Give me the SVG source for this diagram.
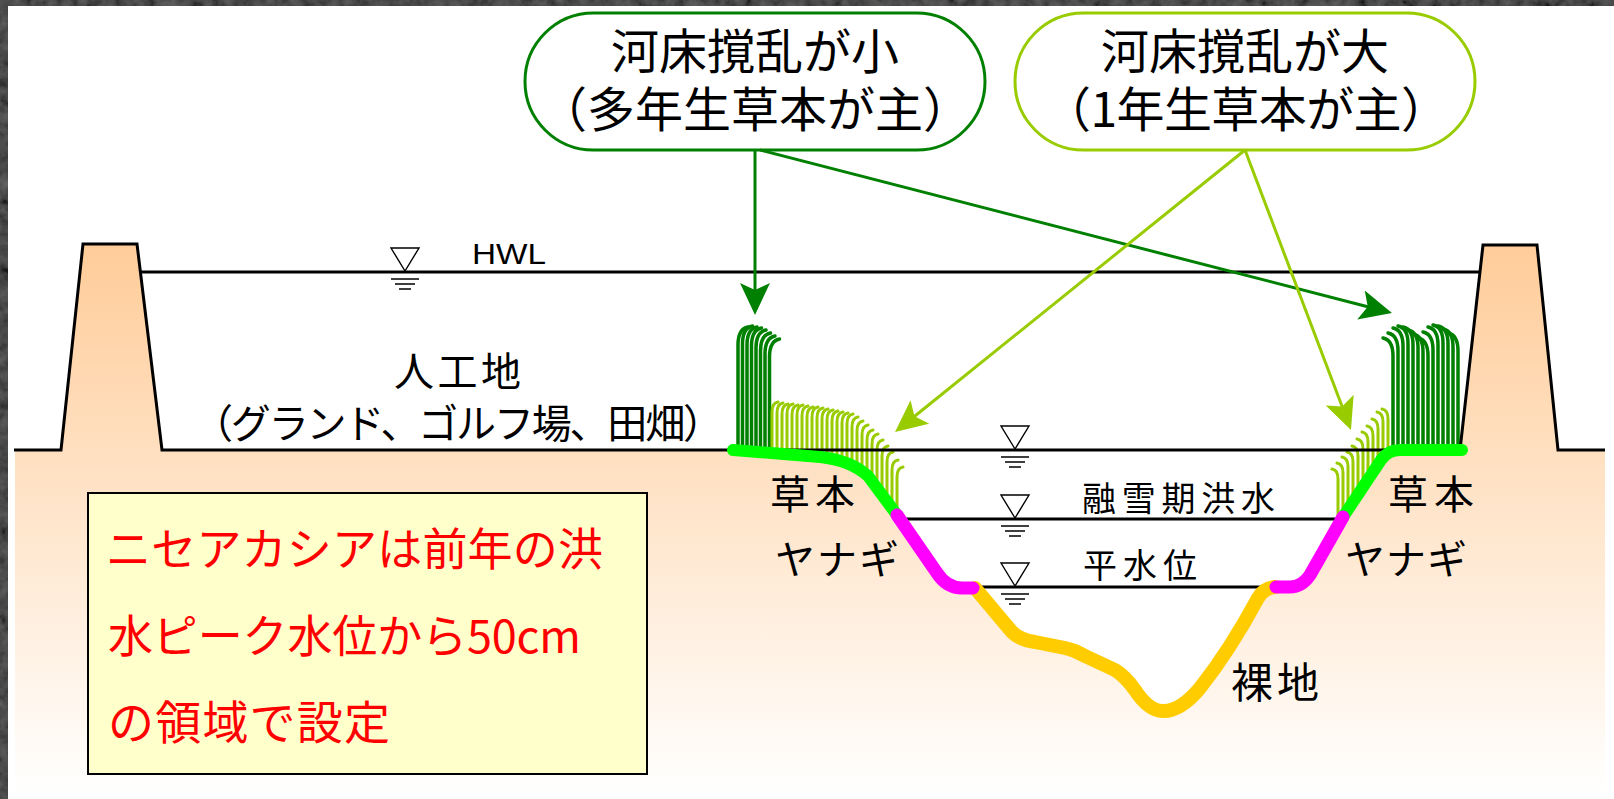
<svg xmlns="http://www.w3.org/2000/svg" width="1614" height="799" viewBox="0 0 1614 799">
  <defs>
    <style>
      .jp { font-family: 'Noto Sans CJK JP', 'Noto Sans CJK SC', sans-serif; fill: #000; }
      .lat { font-family: 'Liberation Sans', Arial, sans-serif; fill: #000; }
      .red { fill: #ff0000; }
      .lvl { stroke: #000; stroke-width: 3; fill: none; }
      .dk { stroke: #008000; stroke-width: 3.5; fill: none; stroke-linecap: round; }
      .lt { stroke: #99cc00; stroke-width: 3; fill: none; stroke-linecap: round; }
      .bank { fill: none; stroke-linecap: round; stroke-linejoin: round; }
    </style>
    <linearGradient id="soil" gradientUnits="userSpaceOnUse" x1="0" y1="244" x2="0" y2="795">
      <stop offset="0" stop-color="#ffcc99"/>
      <stop offset="0.37" stop-color="#ffdfbf"/>
      <stop offset="1" stop-color="#ffffff"/>
    </linearGradient>
    <filter id="granite" x="0" y="0" width="100%" height="100%">
      <feTurbulence type="fractalNoise" baseFrequency="0.09" numOctaves="3" seed="4"/>
      <feColorMatrix type="saturate" values="0"/>
      <feComponentTransfer>
        <feFuncR type="linear" slope="0.6" intercept="-0.15"/>
        <feFuncG type="linear" slope="0.6" intercept="-0.15"/>
        <feFuncB type="linear" slope="0.6" intercept="-0.15"/>
        <feFuncA type="linear" slope="0" intercept="1"/>
      </feComponentTransfer>
    </filter>
    <marker id="ahDark" markerUnits="userSpaceOnUse" viewBox="0 0 32 30" markerWidth="32" markerHeight="30" refX="12" refY="15" orient="auto">
      <path d="M0,0 L32,15 L0,30 L7,15 Z" fill="#008000"/>
    </marker>
    <marker id="ahLight" markerUnits="userSpaceOnUse" viewBox="0 0 32 30" markerWidth="32" markerHeight="30" refX="12" refY="15" orient="auto">
      <path d="M0,0 L32,15 L0,30 L7,15 Z" fill="#99cc00"/>
    </marker>
    <!-- water level mark: inverted triangle with three bars, origin at the water line -->
    <g id="wl">
      <path d="M-14,-24 L14,-24 L0,-1 Z" fill="#fff" stroke="#000" stroke-width="1.4"/>
      <path d="M-14,7 H14 M-10,12 H10 M-6,17 H6" stroke="#000" stroke-width="1.4"/>
    </g>
  </defs>

  <!-- frame -->
  <rect x="0" y="0" width="1614" height="799" fill="#2e2e2e"/>
  <rect x="0" y="0" width="1614" height="799" filter="url(#granite)" opacity="0.45"/>
  <rect x="8" y="6" width="1606" height="793" fill="#ffffff"/>

  <!-- ground, levees and river channel -->
  <g id="ground">
    <path d="M15,450 L61,450 L83,244 L137,244 L162,450 L1460,450 L1483,245 L1537,245 L1558,450 L1605,450 L1605,795 L15,795 Z" fill="url(#soil)"/>
    <path d="M733,450 L820,457 Q850,460 868,476 L897,515 L937,573 Q947,588 962,588 L975,588 L1012,632 Q1020,640 1035,642 L1065,648 Q1075,650 1085,656 L1115,670 Q1125,676 1135,690 Q1148,710 1162,711 Q1180,712 1200,688 Q1230,650 1258,598 Q1264,588 1275,587 L1290,587 Q1302,587 1310,575 L1343,517 L1381,460 Q1388,450 1400,450 L1462,450 Z" fill="#ffffff"/>
  </g>

  <!-- vegetation -->
  <g id="grass">
    <g class="dk">
      <path d="M738,451 L738,345 Q738,329 748,327"/>
      <path d="M742.5,451 L742.5,344 Q742.5,328 752.5,326"/>
      <path d="M747,451 L747,345 Q747,329 757,327"/>
      <path d="M751.5,451 L751.5,346 Q751.5,330 761.5,328"/>
      <path d="M756,451 L756,348 Q756,332 766,330"/>
      <path d="M760.5,451 L760.5,351 Q760.5,335 770.5,333"/>
      <path d="M765,451 L765,354 Q765,338 775,336"/>
      <path d="M769.5,451 L769.5,357 Q769.5,341 779.5,339"/>

      <path d="M1393,452 L1393,356 Q1393,340 1383,338"/>
      <path d="M1398,452 L1398,351 Q1398,335 1388,333"/>
      <path d="M1403,452 L1403,346 Q1403,330 1393,328"/>
      <path d="M1408,452 L1408,344 Q1408,328 1398,326"/>
      <path d="M1413,452 L1413,345 Q1413,329 1403,327"/>
      <path d="M1418,452 L1418,348 Q1418,332 1408,330"/>
      <path d="M1423,452 L1423,352 Q1423,336 1413,334"/>
      <path d="M1428,452 L1428,356 Q1428,340 1418,338"/>
      <path d="M1433,452 L1433,350 Q1433,334 1423,332"/>
      <path d="M1438,452 L1438,345 Q1438,329 1428,327"/>
      <path d="M1443,452 L1443,343 Q1443,327 1433,325"/>
      <path d="M1448,452 L1448,344 Q1448,328 1438,326"/>
      <path d="M1453,452 L1453,347 Q1453,331 1443,329"/>
      <path d="M1458,452 L1458,351 Q1458,335 1448,333"/>
    </g>
    <g class="lt">
      <path d="M772,457 L772,412 Q772,403 778,402"/>
      <path d="M777,457 L777,413 Q777,404 783,403"/>
      <path d="M782,458 L782,414 Q782,405 788,404"/>
      <path d="M787,458 L787,414 Q787,405 793,404"/>
      <path d="M792,459 L792,415 Q792,406 798,405"/>
      <path d="M797,459 L797,415 Q797,406 803,405"/>
      <path d="M802,459 L802,416 Q802,407 808,406"/>
      <path d="M807,460 L807,417 Q807,408 813,407"/>
      <path d="M812,460 L812,417 Q812,408 818,407"/>
      <path d="M817,461 L817,418 Q817,409 823,408"/>
      <path d="M822,461 L822,419 Q822,410 828,409"/>
      <path d="M827,461 L827,420 Q827,411 833,410"/>
      <path d="M832,462 L832,421 Q832,412 838,411"/>
      <path d="M837,462 L837,422 Q837,413 843,412"/>
      <path d="M842,464 L842,423 Q842,414 848,413"/>
      <path d="M847,465 L847,424 Q847,415 853,414"/>
      <path d="M852,467 L852,427 Q852,418 858,417"/>
      <path d="M857,470 L857,431 Q857,422 863,421"/>
      <path d="M862,473 L862,435 Q862,426 868,425"/>
      <path d="M867,479 L867,440 Q867,431 873,430"/>
      <path d="M872,485 L872,444 Q872,435 878,434"/>
      <path d="M877,492 L877,450 Q877,441 883,440"/>
      <path d="M882,498 L882,456 Q882,447 888,446"/>
      <path d="M887,505 L887,462 Q887,453 893,452"/>
      <path d="M892,512 L892,470 Q892,461 898,460"/>
      <path d="M897,519 L897,477 Q897,468 903,467"/>

      <path d="M1338,530 L1338,479 Q1338,470 1332,469"/>
      <path d="M1343,521 L1343,473 Q1343,464 1337,463"/>
      <path d="M1348,513 L1348,467 Q1348,458 1342,457"/>
      <path d="M1353,506 L1353,462 Q1353,453 1347,452"/>
      <path d="M1358,498 L1358,456 Q1358,447 1352,446"/>
      <path d="M1363,491 L1363,449 Q1363,440 1357,439"/>
      <path d="M1368,483 L1368,442 Q1368,433 1362,432"/>
      <path d="M1373,476 L1373,436 Q1373,427 1367,426"/>
      <path d="M1378,468 L1378,429 Q1378,420 1372,419"/>
      <path d="M1383,461 L1383,422 Q1383,413 1377,412"/>
      <path d="M1388,454 L1388,419 Q1388,410 1382,409"/>
    </g>
  </g>

  <!-- outlines and water levels -->
  <g id="levels">
    <path class="lvl" d="M14,450 L61,450 L83,244 L137,244 L162,450 L1460,450 L1483,245 L1537,245 L1558,450 L1605,450" stroke-linejoin="miter"/>
    <path class="lvl" d="M140,272 H1480"/>
    <path class="lvl" d="M903,519 H1338"/>
    <path class="lvl" d="M975,587 H1272"/>
    <use href="#wl" x="405" y="272"/>
    <use href="#wl" x="1015" y="450"/>
    <use href="#wl" x="1015" y="519"/>
    <use href="#wl" x="1015" y="587"/>
  </g>

  <!-- bank cover classes -->
  <g id="banks">
    <path class="bank" stroke="#ffcc00" stroke-width="14" d="M975,588 L1012,632 Q1020,640 1035,642 L1065,648 Q1075,650 1085,656 L1115,670 Q1125,676 1135,690 Q1148,710 1162,711 Q1180,712 1200,688 Q1230,650 1258,598 Q1264,588 1275,587"/>
    <path class="bank" stroke="#00ff00" stroke-width="12" d="M733,450 L820,457 Q850,460 868,476 L897,515"/>
    <path class="bank" stroke="#00ff00" stroke-width="12" d="M1343,517 L1381,460 Q1388,450 1400,450 L1462,450"/>
    <path class="bank" stroke="#ff00ff" stroke-width="13" d="M897,515 L937,573 Q947,588 962,588 L973,588"/>
    <path class="bank" stroke="#ff00ff" stroke-width="13" d="M1276,587 L1290,587 Q1302,587 1310,575 L1343,517"/>
  </g>

  <!-- labels on the section -->
  <g id="labels">
    <text class="lat" x="472" y="264" font-size="30" textLength="74" lengthAdjust="spacingAndGlyphs">HWL</text>
    <text class="jp" x="394" y="386" font-size="40" textLength="127">人工地</text>
    <text class="jp" x="193" y="438" font-size="40" textLength="530">（グランド、ゴルフ場、田畑）</text>
    <text class="jp" x="770" y="509" font-size="40" textLength="85">草本</text>
    <text class="jp" x="775" y="574" font-size="40" textLength="124">ヤナギ</text>
    <text class="jp" x="1388" y="509" font-size="40" textLength="86">草本</text>
    <text class="jp" x="1345" y="574" font-size="40" textLength="122">ヤナギ</text>
    <text class="jp" x="1231" y="698" font-size="42" textLength="88">裸地</text>
    <text class="jp" x="1082" y="511" font-size="34" textLength="193">融雪期洪水</text>
    <text class="jp" x="1083" y="578" font-size="34" textLength="114">平水位</text>
  </g>

  <!-- disturbance categories -->
  <g id="node-small-disturbance">
    <rect x="525" y="13" width="460" height="137" rx="68.5" ry="68.5" fill="#fff" stroke="#008000" stroke-width="3"/>
    <text class="jp" x="611" y="69" font-size="48" textLength="288">河床撹乱が小</text>
    <text class="jp" x="539" y="127" font-size="48" textLength="432">（多年生草本が主）</text>
  </g>
  <g id="node-large-disturbance">
    <rect x="1015" y="13" width="460" height="137" rx="68.5" ry="68.5" fill="#fff" stroke="#99cc00" stroke-width="3"/>
    <text class="jp" x="1101" y="69" font-size="48" textLength="288">河床撹乱が大</text>
    <text class="jp" x="1043" y="127" font-size="48" textLength="406">（1年生草本が主）</text>
  </g>

  <!-- note -->
  <g id="node-note">
    <rect x="88" y="493" width="559" height="281" fill="#ffffcc" stroke="#000" stroke-width="2"/>
    <text class="jp red" x="106" y="566" font-size="45" textLength="497">ニセアカシアは前年の洪</text>
    <text class="jp red" x="108" y="653" font-size="45" textLength="473">水ピーク水位から50cm</text>
    <text class="jp red" x="108" y="739" font-size="46" textLength="282">の領域で設定</text>
  </g>

  <!-- arrows -->
  <g id="connectors">
    <line x1="755" y1="150" x2="755" y2="295" stroke="#008000" stroke-width="3" marker-end="url(#ahDark)"/>
    <line x1="760" y1="150" x2="1372.6" y2="308" stroke="#008000" stroke-width="3" marker-end="url(#ahDark)"/>
    <line x1="1245" y1="150" x2="910.6" y2="419.5" stroke="#99cc00" stroke-width="3" marker-end="url(#ahLight)"/>
    <line x1="1245" y1="150" x2="1343.9" y2="411.3" stroke="#99cc00" stroke-width="3" marker-end="url(#ahLight)"/>
  </g>
</svg>
